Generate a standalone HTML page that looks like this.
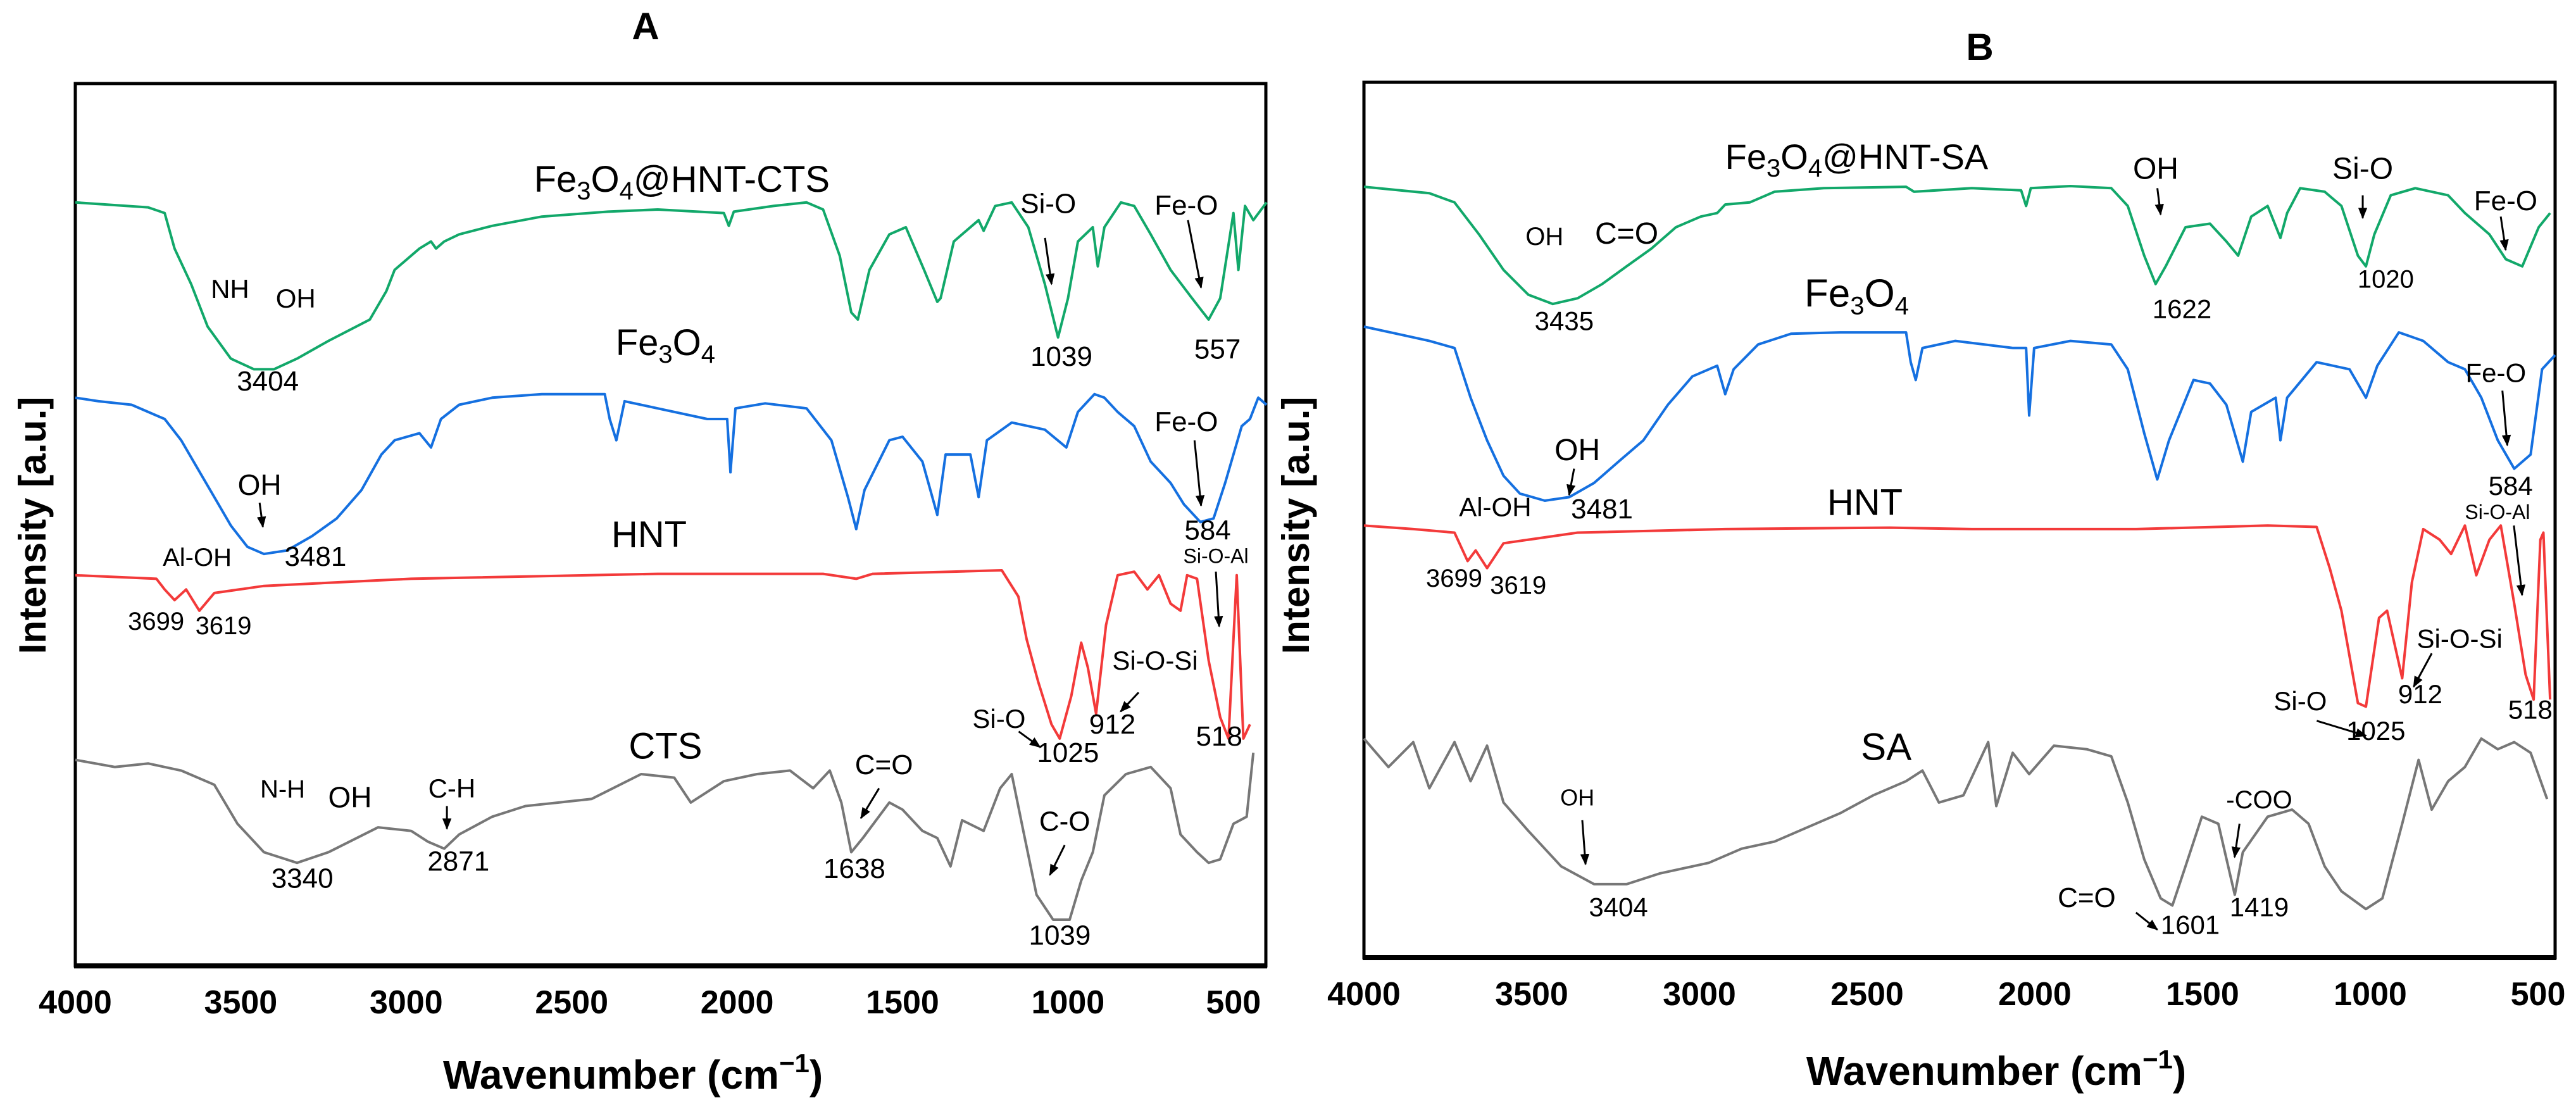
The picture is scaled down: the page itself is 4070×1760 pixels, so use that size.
<!DOCTYPE html>
<html><head><meta charset="utf-8"><style>
html,body{margin:0;padding:0;background:#fff;}
svg{display:block;font-family:"Liberation Sans",Arial,sans-serif;}
</style></head><body>
<svg id="chart" width="4070" height="1760" viewBox="0 0 4070 1760" xmlns="http://www.w3.org/2000/svg">
<defs><marker id="ah" viewBox="0 0 10 10" refX="9" refY="5" markerWidth="6" markerHeight="6" orient="auto"><path d="M0,1 L10,5 L0,9 z" fill="#000"/></marker></defs>
<g id="layer"></g>
</svg>
<script>
// ---- Data (wavenumber, offset downward in a.u.) ----
const ticks = [4000,3500,3000,2500,2000,1500,1000,500];
const aGreen = [[4000,285],[3780,292],[3730,300],[3700,350],[3650,400],[3600,460],[3530,505],[3460,520],[3400,520],[3330,505],[3235,480],[3110,450],[3060,410],[3035,380],[2960,350],[2925,340],[2910,350],[2885,340],[2840,330],[2740,318],[2590,305],[2390,298],[2240,295],[2040,300],[2025,318],[2010,298],[1890,290],[1790,285],[1740,295],[1690,360],[1655,440],[1635,450],[1600,380],[1540,330],[1490,320],[1435,380],[1395,425],[1385,420],[1345,340],[1270,310],[1255,325],[1220,290],[1170,285],[1120,320],[1070,400],[1030,475],[1000,420],[970,340],[925,320],[910,375],[890,320],[840,285],[800,290],[750,330],[690,380],[625,420],[575,450],[540,420],[500,300],[485,380],[465,290],[440,310],[400,285]];
const aBlue = [[4000,560],[3930,565],[3830,570],[3730,590],[3680,620],[3630,660],[3580,700],[3530,740],[3480,770],[3430,780],[3360,775],[3285,755],[3210,730],[3135,690],[3075,640],[3035,620],[2960,610],[2925,630],[2895,590],[2840,570],[2740,560],[2590,555],[2400,555],[2385,590],[2365,620],[2340,565],[2240,575],[2090,590],[2030,590],[2020,665],[2005,575],[1915,568],[1790,575],[1715,620],[1665,700],[1640,745],[1615,690],[1540,620],[1500,615],[1440,650],[1395,725],[1370,640],[1295,640],[1270,700],[1245,620],[1170,595],[1070,605],[1005,630],[970,580],[920,555],[890,560],[850,580],[800,600],[750,650],[690,680],[650,710],[600,735],[560,730],[525,680],[475,600],[450,590],[425,560],[400,570]];
const aRed = [[4000,810],[3755,815],[3730,830],[3700,845],[3665,830],[3625,860],[3580,835],[3430,825],[2985,815],[2240,808],[1740,808],[1640,815],[1590,808],[1200,803],[1150,840],[1125,900],[1090,960],[1050,1020],[1025,1040],[990,980],[960,905],[940,940],[915,1005],[885,880],[850,810],[800,805],[760,830],[725,810],[690,850],[660,860],[640,810],[610,815],[575,930],[540,1010],[515,1040],[500,900],[490,810],[470,1040],[450,1020]];
const aGrey = [[4000,1070],[3880,1080],[3780,1075],[3680,1085],[3580,1105],[3510,1160],[3430,1200],[3330,1215],[3235,1200],[3085,1165],[2985,1170],[2935,1185],[2885,1195],[2840,1175],[2740,1150],[2640,1135],[2440,1125],[2290,1090],[2190,1095],[2140,1130],[2040,1100],[1940,1090],[1840,1085],[1770,1110],[1720,1085],[1685,1130],[1655,1200],[1620,1180],[1540,1130],[1500,1140],[1440,1170],[1395,1180],[1355,1220],[1320,1155],[1255,1170],[1205,1110],[1170,1090],[1135,1170],[1095,1260],[1045,1295],[995,1295],[960,1240],[925,1200],[890,1120],[825,1090],[750,1080],[690,1110],[660,1175],[610,1200],[575,1215],[540,1210],[500,1160],[460,1150],[440,1060]];
const bGreen = [[4000,263],[3805,272],[3730,285],[3657,330],[3584,380],[3510,415],[3437,428],[3363,420],[3290,400],[3217,375],[3143,350],[3070,320],[2996,305],[2947,300],[2923,288],[2850,285],[2776,270],[2629,265],[2384,263],[2360,270],[2188,265],[2041,268],[2026,290],[2012,265],[1894,262],[1772,265],[1723,290],[1674,360],[1640,400],[1610,375],[1551,320],[1478,315],[1429,340],[1394,360],[1355,305],[1306,290],[1268,335],[1248,300],[1209,265],[1136,270],[1086,290],[1037,360],[1013,375],[988,330],[939,275],[866,265],[768,275],[718,300],[645,330],[596,365],[547,375],[498,320],[464,300]];
const bBlue = [[4000,460],[3902,470],[3805,480],[3730,490],[3682,560],[3633,620],[3584,670],[3535,695],[3461,705],[3388,700],[3314,680],[3241,650],[3167,620],[3094,570],[3021,530],[2947,515],[2923,555],[2898,520],[2825,485],[2727,470],[2580,468],[2384,468],[2370,510],[2355,535],[2335,490],[2237,480],[2065,490],[2026,490],[2017,585],[2002,490],[1894,480],[1772,485],[1723,520],[1674,610],[1635,675],[1600,620],[1527,535],[1478,540],[1429,570],[1380,650],[1355,580],[1282,560],[1268,620],[1248,560],[1160,510],[1062,520],[1013,560],[979,515],[915,468],[842,480],[768,510],[718,520],[669,560],[620,620],[571,660],[522,640],[488,520],[449,500]];
const bRed = [[4000,740],[3853,745],[3730,750],[3691,790],[3667,775],[3633,800],[3584,765],[3363,750],[2923,745],[2433,743],[2188,745],[1698,745],[1306,740],[1160,742],[1121,800],[1086,860],[1037,990],[1013,995],[974,870],[950,860],[905,955],[876,820],[842,745],[793,760],[759,780],[718,740],[684,810],[645,760],[611,740],[571,850],[537,950],[513,985],[493,760],[484,750],[464,985]];
const bGrey = [[4000,1040],[3927,1080],[3853,1045],[3805,1110],[3730,1045],[3682,1100],[3633,1050],[3584,1130],[3510,1170],[3412,1220],[3314,1245],[3217,1245],[3119,1230],[2972,1215],[2874,1195],[2776,1185],[2678,1165],[2580,1145],[2482,1120],[2384,1100],[2335,1085],[2286,1130],[2213,1120],[2139,1045],[2115,1135],[2066,1060],[2017,1090],[1943,1050],[1845,1055],[1772,1065],[1723,1130],[1674,1210],[1625,1265],[1590,1275],[1551,1220],[1502,1150],[1453,1160],[1404,1260],[1380,1200],[1306,1150],[1233,1140],[1184,1160],[1136,1220],[1086,1255],[1013,1280],[964,1265],[905,1160],[856,1070],[817,1140],[768,1100],[718,1080],[669,1040],[620,1055],[571,1045],[522,1060],[473,1125]];

const NS='http://www.w3.org/2000/svg';
const layer=document.getElementById('layer');
const panels={A:{left:119,right:2000,top:132,bottom:1526,per:261.4},B:{left:2155,right:4037,top:130,bottom:1513,per:265}};
function xScale(p,w){return p.left+(4000-w)/500*p.per;}
function yScale(v){return v*1.122;}
function el(tag,attrs){const e=document.createElementNS(NS,tag);for(const k in attrs)e.setAttribute(k,attrs[k]);layer.appendChild(e);return e;}
function txt(x,y,s,size,opts){opts=opts||{};const t=el('text',{x:x,y:y,'font-size':size,'text-anchor':opts.anchor||'middle','font-weight':opts.bold?'bold':'normal',fill:'#000'});
 if(opts.html)t.innerHTML=s;else t.textContent=s;if(opts.rot)t.setAttribute('transform','rotate(-90 '+x+' '+y+')');return t;}
function Z(x,y){return [x*2.596,y*1.122];}

['A','B'].forEach(function(k){
 const p=panels[k];
 const f=el('rect',{x:p.left,y:p.top,width:p.right-p.left,height:p.bottom-p.top,fill:'none',stroke:'#000','stroke-width':5});
 
 
 const b=el('line',{x1:p.left-2,x2:p.right+2,y1:p.bottom,y2:p.bottom,stroke:'#000','stroke-width':8});
 
 
 ticks.forEach(function(w){
  const t=txt(xScale(p,w),p.bottom+75,String(w),52,{bold:true});
  
  
 });
});

function series(p,data,color,name){
 const d=data.map(function(pt,i){return (i?'L':'M')+xScale(p,pt[0]).toFixed(1)+','+yScale(pt[1]).toFixed(1);}).join(' ');
 const e=el('path',{d:d,fill:'none',stroke:color,'stroke-width':4,'stroke-linejoin':'round'});
 
 
}
series(panels.A,aGreen,'#12a86a','series-a-fe3o4-hnt-cts');
series(panels.A,aBlue,'#1570e0','series-a-fe3o4');
series(panels.A,aRed,'#f33a3a','series-a-hnt');
series(panels.A,aGrey,'#777777','series-a-cts');
series(panels.B,bGreen,'#12a86a','series-b-fe3o4-hnt-sa');
series(panels.B,bBlue,'#1570e0','series-b-fe3o4');
series(panels.B,bRed,'#f33a3a','series-b-hnt');
series(panels.B,bGrey,'#777777','series-b-sa');

// titles
let t;
t=txt(1020,62,'A',60,{bold:true});
t=txt(3128,95,'B',60,{bold:true});
t=txt(1000,1720,'Wavenumber (cm<tspan dy="-26" font-size="42">−1</tspan><tspan dy="26">)</tspan>',64,{bold:true,html:true});
t=txt(3154,1714,'Wavenumber (cm<tspan dy="-26" font-size="42">−1</tspan><tspan dy="26">)</tspan>',64,{bold:true,html:true});
t=txt(72,830,'Intensity [a.u.]',60,{bold:true,rot:true});
t=txt(2068,830,'Intensity [a.u.]',60,{bold:true,rot:true});

const FE='Fe<tspan dy="12" font-size="40">3</tspan><tspan dy="-12">O</tspan><tspan dy="12" font-size="40">4</tspan>';
// labels in zoom coords: [x,y,text,size,html]
const labels=[
 [415,270,FE+'<tspan dy="-12">@HNT-CTS</tspan>',58,1],[140,420,'NH',42],[180,433,'OH',42],[163,550,'3404',44],
 [638,300,'Si-O',44],[646,515,'1039',44],[722,302,'Fe-O',44],[741,505,'557',44],
 [405,500,FE,58,1],[158,697,'OH',46],[192,797,'3481',44],[722,607,'Fe-O',44],[735,760,'584',44],
 [395,770,'HNT',58],[120,797,'Al-OH',40],[95,887,'3699',40],[136,893,'3619',40],[740,793,'Si-O-Al',32],
 [703,943,'Si-O-Si',42],[677,1033,'912',44],[608,1025,'Si-O',42],[650,1073,'1025',44],[742,1050,'518',44],
 [405,1068,'CTS',58],[172,1123,'N-H',40],[213,1137,'OH',46],[275,1123,'C-H',42],[279,1226,'2871',44],[184,1250,'3340',44],
 [538,1090,'C=O',44],[520,1236,'1638',44],[648,1170,'C-O',44],[645,1330,'1039',44],
 [1130,238,FE+'<tspan dy="-12">@HNT-SA</tspan>',56,1],[940,345,'OH',40],[990,343,'C=O',48],[952,465,'3435',42],
 [1312,252,'OH',48],[1328,448,'1622',42],[1438,252,'Si-O',48],[1452,405,'1020',40],[1525,296,'Fe-O',44],
 [1130,432,FE,62,1],[960,648,'OH',48],[975,730,'3481',44],[1519,538,'Fe-O',42],[1528,697,'584',42],
 [1135,725,'HNT',58],[910,727,'Al-OH',42],[885,826,'3699',40],[924,836,'3619',40],[1520,731,'Si-O-Al',32],
 [1497,912,'Si-O-Si',42],[1473,990,'912',42],[1400,1000,'Si-O',42],[1446,1042,'1025',42],[1540,1012,'518',42],
 [1148,1070,'SA',60],[960,1134,'OH',36],[985,1290,'3404',42],[1375,1138,'-COO',40],[1375,1290,'1419',42],
 [1270,1277,'C=O',44],[1333,1315,'1601',42]
];
labels.forEach(function(L){const c=Z(L[0],L[1]);
 const e=txt(c[0],c[1],L[2],L[3],{html:!!L[4]});
 
 
});
const arrows=[[636,335,640,400],[723,310,731,405],[158,708,160,742],[727,620,731,712],[740,805,742,882],[693,975,682,1002],
 [620,1030,633,1052],[272,1135,272,1167],[535,1110,524,1152],[648,1190,639,1232],
 [1313,265,1315,302],[1438,275,1438,307],[1522,305,1525,352],[958,660,955,697],[1523,550,1526,627],[1530,740,1535,838],
 [1480,920,1469,967],[1410,1015,1440,1036],[963,1155,965,1217],[1363,1160,1360,1207],[1300,1285,1313,1309]];
arrows.forEach(function(a){const s=Z(a[0],a[1]),e2=Z(a[2],a[3]);
 const e=el('line',{x1:s[0],y1:s[1],x2:e2[0],y2:e2[1],stroke:'#000','stroke-width':3,'marker-end':'url(#ah)'});
 
 
});
</script>
</body></html>
